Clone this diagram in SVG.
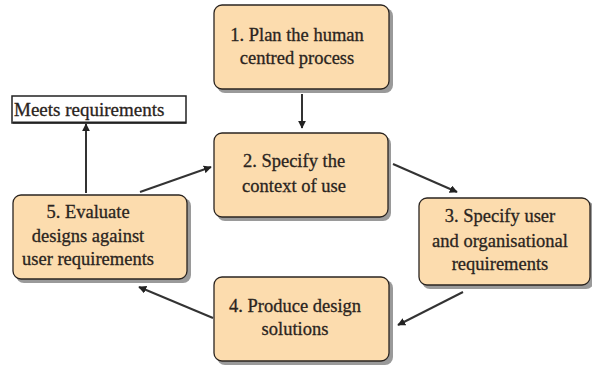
<svg xmlns="http://www.w3.org/2000/svg" width="592" height="365" viewBox="0 0 592 365">
<style>
.shadow{fill:#9a9a9a}
.box{fill:#fcdcae;stroke:#2a2420;stroke-width:1.3}
.t{font-family:"Liberation Serif","DejaVu Serif",serif;font-size:18.5px;fill:#2a2420;text-anchor:middle;stroke:#2a2420;stroke-width:0.3}
.conn line{stroke:#333;stroke-width:2}
</style>
<defs>
<marker id="ah" viewBox="0 0 10 10" refX="9" refY="5" markerWidth="4" markerHeight="4" orient="auto" markerUnits="strokeWidth">
<path d="M0,0 L10,5 L0,10 z" fill="#222"/>
</marker>
</defs>
<rect width="592" height="365" fill="#fff"/>
<g id="node1">
<rect class="shadow" x="217" y="8" width="176" height="85" rx="8"/>
<rect class="box" x="214" y="5" width="175" height="84" rx="8"/>
<text class="t" x="297" y="41">1. Plan the human</text>
<text class="t" x="297" y="64">centred process</text>
</g>
<g id="node2">
<rect class="shadow" x="217" y="136" width="174" height="85" rx="8"/>
<rect class="box" x="214" y="133" width="174" height="84" rx="8"/>
<text class="t" x="294" y="167">2. Specify the</text>
<text class="t" x="294" y="192">context of use</text>
</g>
<g id="node3">
<rect class="shadow" x="422" y="201" width="172" height="88" rx="8"/>
<rect class="box" x="419" y="198" width="171" height="87" rx="8"/>
<text class="t" x="500" y="222">3. Specify user</text>
<text class="t" x="500" y="247">and organisational</text>
<text class="t" x="500" y="270">requirements</text>
</g>
<g id="node4">
<rect class="shadow" x="217" y="280" width="176" height="85" rx="8"/>
<rect class="box" x="214" y="277" width="175" height="84" rx="8"/>
<text class="t" x="295" y="312">4. Produce design</text>
<text class="t" x="295" y="335">solutions</text>
</g>
<g id="node5">
<rect class="shadow" x="16" y="198" width="175" height="85" rx="8"/>
<rect class="box" x="13" y="195" width="174" height="84" rx="8"/>
<text class="t" x="88" y="218">5. Evaluate</text>
<text class="t" x="88" y="242">designs against</text>
<text class="t" x="88" y="265">user requirements</text>
</g>
<g id="meets">
<rect x="12" y="96" width="174" height="27" fill="#fff" stroke="#222" stroke-width="1.5"/>
<line x1="13" y1="122.5" x2="186" y2="122.5" stroke="#222" stroke-width="2"/>
<text class="t" x="14" y="116" style="text-anchor:start;font-size:19px">Meets requirements</text>
</g>
<g class="conn" id="connectors">
<line x1="302" y1="94" x2="302" y2="128" marker-end="url(#ah)"/>
<line x1="393" y1="164" x2="457" y2="192" marker-end="url(#ah)"/>
<line x1="463" y1="292" x2="398" y2="325" marker-end="url(#ah)"/>
<line x1="213" y1="318" x2="139" y2="287" marker-end="url(#ah)"/>
<line x1="140" y1="192" x2="211" y2="167" marker-end="url(#ah)"/>
<line x1="86" y1="193" x2="86" y2="124" marker-end="url(#ah)"/>
</g>
</svg>
